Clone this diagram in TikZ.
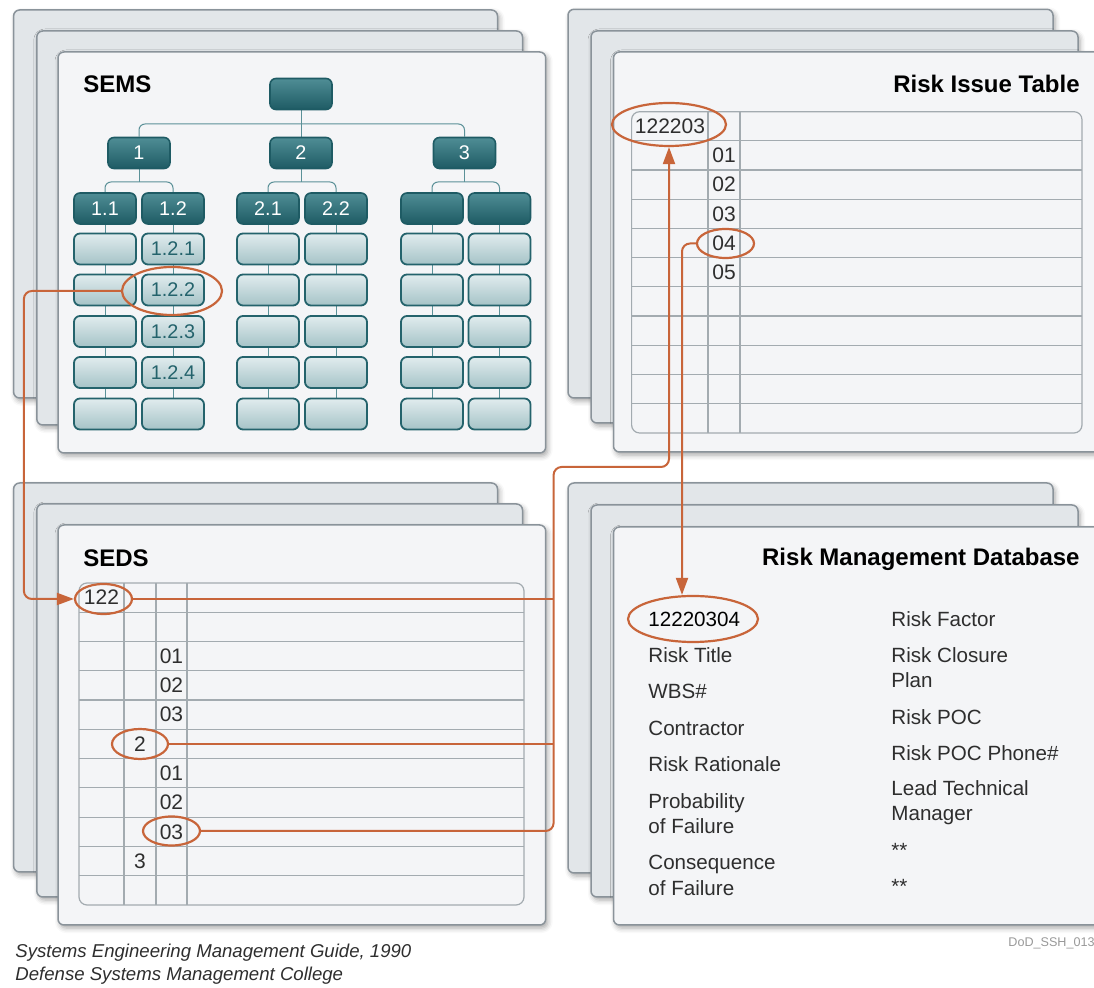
\documentclass[tikz,border=0pt]{standalone}
\usepackage{fontspec}
\setmainfont{Liberation Sans}
\usetikzlibrary{shapes.geometric,arrows.meta,shadows.blur}

\definecolor{linkred}{HTML}{C8653A}
\definecolor{tealdark}{HTML}{1E5B64}
\definecolor{tealtop}{HTML}{4F8D95}
\definecolor{tealpale}{HTML}{E1ECEE}
\definecolor{tealsoft}{HTML}{A5C3C7}
\definecolor{tealedge}{HTML}{24636C}
\definecolor{tealwire}{HTML}{5B9198}
\definecolor{cardedge}{HTML}{8A939A}
\definecolor{cardback}{HTML}{E2E6E9}
\definecolor{cardfront}{HTML}{F4F5F7}
\definecolor{gridline}{HTML}{A3ABB0}
\definecolor{inktext}{HTML}{2E2E2E}

\pgfdeclarelayer{cards}
\pgfdeclarelayer{wires}
\pgfsetlayers{cards,wires,main}

\begin{document}
\begin{tikzpicture}[x=0.5pt,y=-0.5pt,
    card/.style={draw=cardedge, line width=0.75pt, rounded corners=3pt,
        blur shadow={shadow xshift=1pt, shadow yshift=-1.5pt,
            shadow blur radius=2.5pt, shadow opacity=35}},
    topbox/.style={draw=tealdark, line width=0.8pt, rounded corners=3pt,
        top color=tealtop, bottom color=tealdark, text=white,
        minimum width=31pt, minimum height=15.5pt, inner sep=0pt,
        font=\fontsize{9.9}{11}\selectfont},
    leafbox/.style={draw=tealedge, line width=0.9pt, rounded corners=3pt,
        top color=tealpale, bottom color=tealsoft, text=tealedge,
        minimum width=31pt, minimum height=15.5pt, inner sep=0pt,
        font=\fontsize{9.9}{11}\selectfont},
    wire/.style={draw=tealwire, line width=0.5pt, rounded corners=3pt},
    grid/.style={draw=gridline, line width=0.6pt},
    cell/.style={inner sep=0pt, text=inktext, font=\fontsize{10.5}{12}\selectfont},
    field/.style={anchor=west, inner sep=0pt, align=left, text=inktext,
        font=\fontsize{10.3}{12.6}\selectfont},
    title/.style={inner sep=0pt, font=\fontsize{12}{14}\selectfont\bfseries},
    ring/.style={ellipse, draw=linkred, line width=1.1pt, inner sep=0pt},
    link/.style={draw=linkred, line width=1pt, rounded corners=4pt},
    tip/.style={-{Triangle[length=8.5pt,width=6pt]}}
]
    \useasboundingbox (0,0) rectangle (1094,988);
    \clip (0,0) rectangle (1094,988);

    % stacked cards
    \begin{pgfonlayer}{cards}
    \foreach \a/\b/\c/\d/\f in {
        13.6/10/497.5/398/cardback, 36.8/31/522.5/425/cardback, 58/52/545.7/453/cardfront,
        568/9.3/1053/398/cardback, 591/31/1078/423/cardback, 613.5/52/1110/452/cardfront,
        13.6/483/497.5/872/cardback, 36.8/504/522.5/897/cardback, 58/525/545.7/925/cardfront,
        568/483/1053/873/cardback, 591/505/1078/897/cardback, 613.5/527/1110/925/cardfront} {
        \draw[card, fill=\f] (\a,\b) rectangle (\c,\d);
    }
    \end{pgfonlayer}

    % titles
    \node[title, anchor=west] (sems) at (83,84) {SEMS};
    \node[title, anchor=east] (rit) at (1080,84) {Risk Issue Table};
    \node[title, anchor=west] (seds) at (83,558) {SEDS};
    \node[title, anchor=east] (rmd) at (1080,559) {Risk Management Database};

    % SEMS tree
    \node[topbox] (root) at (301,94) {};
    \node[topbox] (n1) at (139,153) {1};
    \node[topbox] (n2) at (301,153) {2};
    \node[topbox] (n3) at (464.5,153) {3};
    \foreach \name/\cx/\t in {n11/105/1.1, n12/173/1.2, n21/268/2.1, n22/336/2.2, n31/432/{}, n32/499.5/{}} {
        \node[topbox] (\name) at (\cx,208.5) {\t};
    }
    \foreach \name/\cx in {n11/105, n21/268, n22/336, n31/432, n32/499.5} {
        \foreach \r/\ry in {1/249, 2/290, 3/331.5, 4/372.5, 5/414} {
            \node[leafbox] (\name-\r) at (\cx,\ry) {};
        }
    }
    \foreach \r/\ry/\t in {1/249/1.2.1, 2/290/1.2.2, 3/331.5/1.2.3, 4/372.5/1.2.4, 5/414/{}} {
        \node[leafbox] (n12-\r) at (173,\ry) {\t};
    }

    % tree connectors behind the boxes
    \begin{pgfonlayer}{wires}
    \coordinate (busA) at (301,124);
    \coordinate (busB1) at (139,182);
    \coordinate (busB2) at (301,182);
    \coordinate (busB3) at (464.5,182);
    \draw[wire] (n1) |- (busA) -| (n3);
    \draw[wire] (root) -- (n2);
    \foreach \p/\l/\r in {1/n11/n12, 2/n21/n22, 3/n31/n32} {
        \draw[wire] (\l) |- (busB\p) -| (\r);
        \draw[wire] (n\p) -- (busB\p);
    }
    \foreach \name in {n11,n12,n21,n22,n31,n32} {
        \draw[wire] (\name) -- (\name-5);
    }
    \end{pgfonlayer}

    % risk issue table
    \draw[grid, rounded corners=4pt] (631.6,111.7) rectangle (1082,433);
    \foreach \k in {1,...,10} {
        \draw[grid] (631.6,{111.7+29.2*\k}) -- (1082,{111.7+29.2*\k});
    }
    \draw[grid] (708,111.7) -- (708,433);
    \draw[grid] (740,111.7) -- (740,433);
    \node[cell] (t122203) at (670,126.3) {122203};
    \foreach \k in {1,...,5} {
        \node[cell] (t0\k) at (724,{126.3+29.2*\k}) {0\k};
    }

    % SEDS table
    \draw[grid, rounded corners=4pt] (79,583) rectangle (524,905);
    \foreach \k in {1,...,10} {
        \draw[grid] (79,{583+29.27*\k}) -- (524,{583+29.27*\k});
    }
    \foreach \cx in {124,156,187} {
        \draw[grid] (\cx,583) -- (\cx,905);
    }
    \node[cell] (c122) at (101.5,597.6) {122};
    \foreach \k/\t in {3/01, 4/02, 5/03} {
        \node[cell] (ca\k) at (171.5,{583+29.27*(\k-0.5)}) {\t};
    }
    \node[cell] (c2) at (140,744.2) {2};
    \foreach \k/\t in {7/01, 8/02, 9/03} {
        \node[cell] (cb\k) at (171.5,{583+29.27*(\k-0.5)}) {\t};
    }
    \node[cell] (c3) at (140,861.4) {3};

    % risk management database fields
    \node[field, text=black] (f0) at (648,619) {12220304};
    \node[field] (f1) at (648,655) {Risk Title};
    \node[field] (f2) at (648,691) {WBS\#};
    \node[field] (f3) at (648,728) {Contractor};
    \node[field] (f4) at (648,764) {Risk Rationale};
    \node[field] (f5) at (648,813.5) {Probability\\of Failure};
    \node[field] (f6) at (648,875.5) {Consequence\\of Failure};
    \node[field] (g0) at (891,619) {Risk Factor};
    \node[field] (g1) at (891,668) {Risk Closure\\Plan};
    \node[field] (g2) at (891,717) {Risk POC};
    \node[field] (g3) at (891,753) {Risk POC Phone\#};
    \node[field] (g4) at (891,802.5) {Lead Technical\\Manager};
    \node[field] (g5) at (891,850) {**};
    \node[field] (g6) at (891,886) {**};

    % rings
    \node[ring, minimum width=50pt, minimum height=24pt] (r122) at (172,291) {};
    \node[ring, minimum width=57pt, minimum height=21.5pt] (r122203) at (669,124.5) {};
    \node[ring, minimum width=28.5pt, minimum height=14.5pt] (r04) at (725.5,243.5) {};
    \node[ring, minimum width=28.5pt, minimum height=15pt] (s122) at (103.5,599) {};
    \node[ring, minimum width=28pt, minimum height=15pt] (s2) at (140,744) {};
    \node[ring, minimum width=28.5pt, minimum height=14.5pt] (s03) at (171.5,831) {};
    \node[ring, minimum width=65pt, minimum height=23pt] (d0) at (693,619) {};

    % links
    \coordinate (riser) at (553.6,467);
    \draw[link, tip] (r122.west) -| ([xshift=-25pt]s122.west) -- (s122.west);
    \draw[link] (s122.east) -- (s122.east -| riser);
    \draw[link] (s2.east) -- (s2.east -| riser);
    \draw[link, tip] (s03.east) -| (riser) -| (r122203.south);
    \draw[link, tip] (r04.west) -| ([xshift=-5.5pt]d0.north);

    % source
    \node[anchor=west, inner sep=0pt, text=inktext, font=\fontsize{9.3}{11}\selectfont\itshape] (src1) at (15,953) {Systems Engineering Management Guide, 1990};
    \node[anchor=west, inner sep=0pt, text=inktext, font=\fontsize{9.3}{11}\selectfont\itshape] (src2) at (15,976) {Defense Systems Management College};
    \node[anchor=east, inner sep=0pt, text=gray!80, font=\fontsize{6.3}{7}\selectfont] (tag) at (1095,943) {DoD\_SSH\_013};
\end{tikzpicture}
\end{document}
